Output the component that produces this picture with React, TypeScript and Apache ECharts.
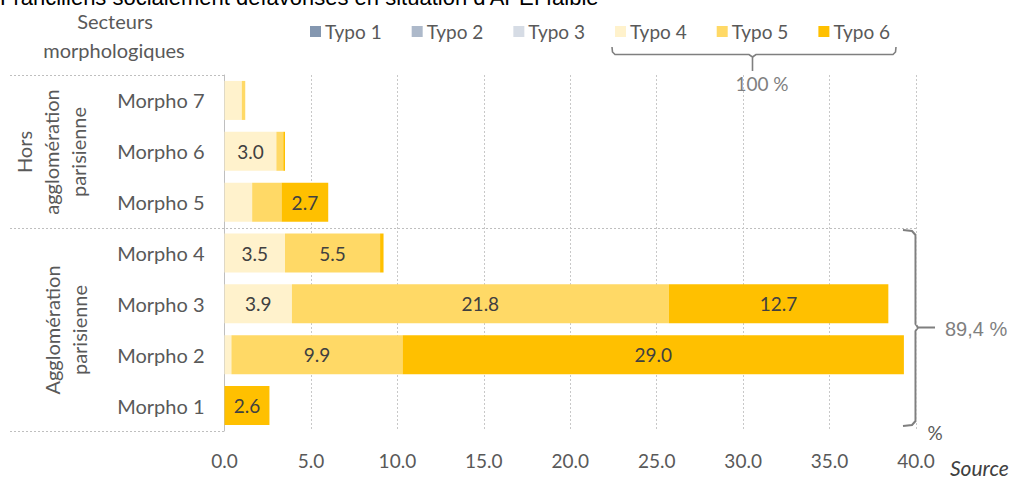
import React, { useEffect, useRef } from "react";
import * as echarts from "echarts";

const categories = ["Morpho 1", "Morpho 2", "Morpho 3", "Morpho 4", "Morpho 5", "Morpho 6", "Morpho 7"];
const seriesNames = ["Typo 1", "Typo 2", "Typo 3", "Typo 4", "Typo 5", "Typo 6"];
const typo1 = [0, 0, 0, 0, 0, 0, 0];
const typo2 = [0, 0, 0, 0, 0, 0, 0];
const typo3 = [0, 0, 0, 0, 0, 0, 0];
const typo4 = [0, 0.4, 3.9, 3.5, 1.6, 3.0, 1.0];
const typo5 = [0, 9.9, 21.8, 5.5, 1.7, 0.4, 0.2];
const typo6 = [2.6, 29.0, 12.7, 0.2, 2.7, 0.1, 0];
const colors = ["#8497B0", "#ADB9CA", "#D6DCE5", "#FFF2CC", "#FFD966", "#FFC000"];
const xTicks = { min: 0, max: 40, interval: 5 };

const FONT = "Lato";
const GRAY = "#595959";
const BRACE = "#7f7f7f";

export default function App() {
  const ref = useRef<HTMLDivElement>(null);
  useEffect(() => {
    if (!ref.current) return;
    const chart = echarts.init(ref.current, null, { renderer: "svg" });
    const all = [typo1, typo2, typo3, typo4, typo5, typo6];
    const series = seriesNames.map((name, i) => ({
      name,
      type: "bar",
      stack: "total",
      barWidth: 39,
      itemStyle: { color: colors[i] },
      label: {
        show: true,
        position: "inside",
        color: "#404040",
        fontFamily: FONT,
        fontSize: 19,
        formatter: (p: any) => (p.value >= 2.5 ? Number(p.value).toFixed(1) : ""),
      },
      emphasis: { disabled: true },
      data: all[i],
    }));
    const dash = { stroke: "#bfbfbf", lineWidth: 1, lineDash: [2, 2] };
    chart.setOption({
      animation: false,
      backgroundColor: "#ffffff",
      grid: { left: 224.5, right: 96, top: 75, bottom: 46, containLabel: false },
      legend: {
        data: seriesNames,
        left: 305,
        top: 17,
        itemWidth: 11,
        itemHeight: 11,
        itemGap: 30,
        icon: "rect",
        textStyle: { color: GRAY, fontFamily: FONT, fontSize: 19, padding: [0, 0, 0, -1] },
      },
      xAxis: {
        type: "value",
        min: xTicks.min,
        max: xTicks.max,
        interval: xTicks.interval,
        axisLine: { show: false },
        axisTick: { show: false },
        axisLabel: {
          color: GRAY,
          fontFamily: FONT,
          fontSize: 19,
          margin: 20,
          formatter: (v: number) => v.toFixed(1),
        },
        splitLine: { show: true, lineStyle: { color: "#c8c8c8", type: [2, 2], width: 1 } },
      },
      yAxis: {
        type: "category",
        data: categories,
        axisLine: { show: true, lineStyle: { color: "#bfbfbf", width: 1 } },
        axisTick: { show: false },
        axisLabel: { color: GRAY, fontFamily: FONT, fontSize: 20, margin: 20 },
      },
      series,
      graphic: [
        {
          type: "text",
          x: 0,
          y: -3,
          style: {
            text: "Franciliens socialement défavorisés en situation d'APEI faible",
            fontFamily: "Liberation Sans",
            fontSize: 22,
            fill: "#000000",
            verticalAlign: "middle",
            align: "left",
          },
        },
        {
          type: "text",
          x: 115,
          y: 21,
          style: { text: "Secteurs", fontFamily: FONT, fontSize: 20, fill: GRAY, align: "center", verticalAlign: "middle" },
        },
        {
          type: "text",
          x: 114,
          y: 50,
          style: { text: "morphologiques", fontFamily: FONT, fontSize: 20, fill: GRAY, align: "center", verticalAlign: "middle" },
        },
        {
          type: "text",
          x: 51,
          y: 152,
          rotation: Math.PI / 2,
          style: {
            text: "Hors\nagglomération\nparisienne",
            fontFamily: FONT,
            fontSize: 20,
            lineHeight: 27,
            fill: GRAY,
            align: "center",
            verticalAlign: "middle",
          },
        },
        {
          type: "text",
          x: 65,
          y: 330,
          rotation: Math.PI / 2,
          style: {
            text: "Agglomération\nparisienne",
            fontFamily: FONT,
            fontSize: 20,
            lineHeight: 27,
            fill: GRAY,
            align: "center",
            verticalAlign: "middle",
          },
        },
        { type: "line", shape: { x1: 10, y1: 75.5, x2: 224, y2: 75.5 }, style: dash },
        { type: "line", shape: { x1: 10, y1: 228.5, x2: 916, y2: 228.5 }, style: dash },
        { type: "line", shape: { x1: 10, y1: 431.5, x2: 224, y2: 431.5 }, style: dash },
        {
          type: "polyline",
          shape: { points: [[612, 47], [612.5, 52], [615, 54.5], [749, 54.5], [752.5, 57], [752.5, 71]] },
          style: { stroke: BRACE, lineWidth: 1.6, fill: "none" },
        },
        {
          type: "polyline",
          shape: { points: [[752.5, 57], [756, 54.5], [893, 54.5], [895.5, 52], [896, 47]] },
          style: { stroke: BRACE, lineWidth: 1.6, fill: "none" },
        },
        {
          type: "text",
          x: 762,
          y: 83,
          style: { text: "100 %", fontFamily: FONT, fontSize: 19, fill: BRACE, align: "center", verticalAlign: "middle" },
        },
        {
          type: "polyline",
          shape: { points: [[903, 230], [912, 231], [915.5, 235], [915.5, 324], [918, 327.5], [935, 327.5]] },
          style: { stroke: BRACE, lineWidth: 2, fill: "none" },
        },
        {
          type: "polyline",
          shape: { points: [[918, 327.5], [915.5, 331], [915.5, 421], [912, 425], [903, 426]] },
          style: { stroke: BRACE, lineWidth: 2, fill: "none" },
        },
        {
          type: "text",
          x: 945,
          y: 329,
          style: { text: "89,4 %", fontFamily: "Liberation Sans", fontSize: 20, fill: BRACE, align: "left", verticalAlign: "middle" },
        },
        {
          type: "text",
          x: 935,
          y: 432,
          style: { text: "%", fontFamily: FONT, fontSize: 19, fill: GRAY, align: "center", verticalAlign: "middle" },
        },
        {
          type: "text",
          x: 950,
          y: 467,
          style: { text: "Source", fontFamily: FONT, fontSize: 21, fontStyle: "italic", fill: "#404040", align: "left", verticalAlign: "middle" },
        },
      ],
    });
    return () => chart.dispose();
  }, []);
  return <div ref={ref} style={{ position: "absolute", left: 0, top: 0, width: 1012, height: 477 }} />;
}
